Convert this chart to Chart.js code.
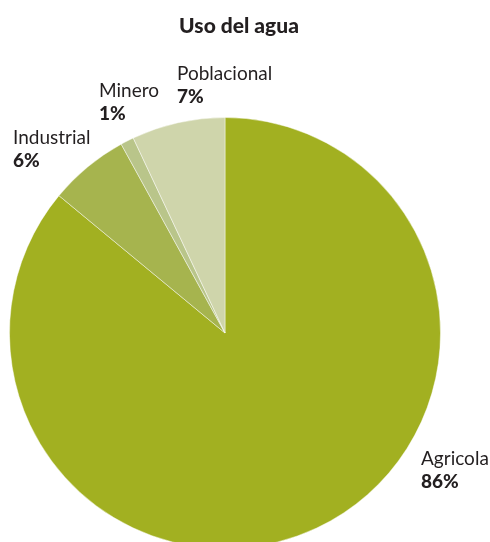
<!DOCTYPE html>
<html>
<head>
<meta charset="utf-8">
<script src="https://cdn.jsdelivr.net/npm/chart.js@4"></script>
<style>
  html, body { margin: 0; padding: 0; background: #fff; overflow: hidden; }
</style>
</head>
<body>
<canvas id="grafico" width="490" height="560"></canvas>
<script>
// Datos del gráfico
const categorias = ['Agricola', 'Industrial', 'Minero', 'Poblacional'];
const porcentajes = [86, 6, 1, 7];
const colores = ['#a2b021', '#a6b44e', '#b9c58a', '#cfd5ab'];

// Posición de cada etiqueta (x, línea base del nombre)
const posEtiquetas = [[421, 465], [13, 144], [99, 97], [177, 80]];

const etiquetas = {
    id: 'etiquetas',
    afterDraw(chart) {
        const ctx = chart.ctx;
        ctx.save();
        ctx.fillStyle = '#231f20';
        ctx.textAlign = 'center';
        ctx.font = '900 21px Lato';
        ctx.fillText('Uso del agua', 239, 33);
        ctx.textAlign = 'left';
        categorias.forEach((nombre, i) => {
            const [x, y] = posEtiquetas[i];
            ctx.font = '19px Lato';
            ctx.fillText(nombre, x, y);
            ctx.font = '900 19px Lato';
            ctx.fillText(porcentajes[i] + '%', x, y + 23);
        });
        ctx.restore();
    }
};

new Chart(document.getElementById('grafico'), {
    type: 'pie',
    data: {
        labels: categorias,
        datasets: [{
            data: porcentajes,
            backgroundColor: colores,
            borderColor: 'rgba(255,255,255,0.45)',
            borderWidth: 1
        }]
    },
    options: {
        responsive: false,
        animation: false,
        layout: { padding: { top: 117, left: 9, right: 49, bottom: 11 } },
        plugins: {
            legend: { display: false },
            tooltip: { enabled: false }
        }
    },
    plugins: [etiquetas]
});
</script>
</body>
</html>
